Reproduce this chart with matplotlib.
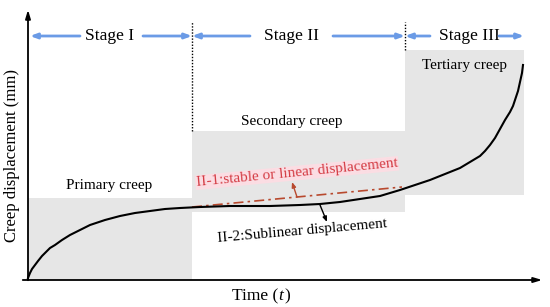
import numpy as np
import matplotlib
matplotlib.use("Agg")
import matplotlib.pyplot as plt

plt.rcParams['font.family'] = ['Liberation Serif', 'DejaVu Serif']

# schematic creep curve (time, displacement) in drawing units
t = [0, 2, 4, 7, 10, 14, 18, 22, 27, 34, 42, 52, 62, 77, 92, 107, 122, 137,
     152, 172, 202, 242, 272, 292, 312, 332, 352, 362, 372, 387, 402, 417,
     432, 442, 452, 457, 462, 467, 472, 477, 482, 485, 487, 490, 492, 494, 495]
d = [2, 7, 11, 15, 19, 24, 28, 32, 35, 40, 45, 50, 55, 60, 64, 67, 69, 71,
     72, 73, 74, 74, 75, 76, 78, 81, 84, 87, 90, 95, 100, 106,
     112, 118, 124, 129, 135, 142, 151, 160, 168, 174, 180, 189, 198, 207, 215]

# stage boundaries and shaded boxes (t0, t1, d_low, d_high)
stage_edges = [0, 164, 377, 496]
boxes = [(0, 164, 0, 82), (164, 377, 68, 149), (377, 496, 85, 230)]
stage_names = ["Stage I", "Stage II", "Stage III"]
stage_text_t = [82, 264, 441]
stage_arrows = [(52, 2), (115, 164), (222, 164), (305, 377), (402, 377), (471, 496)]

# linear reference line in stage II
lin_t = [164, 374]
lin_d = [73, 93]

fig = plt.figure(figsize=(5.5, 3.07), dpi=100)
ax = fig.add_axes([0, 0, 1, 1])
ax.set_xlim(-28, 522)
ax.set_ylim(-27, 280)
ax.axis('off')

for t0, t1, d0, d1 in boxes:
    ax.fill_between([t0, t1], d0, d1, color='#e6e6e6', lw=0, zorder=0)

ax.plot([stage_edges[1]] * 2, [149, 258], color='black', ls=(0, (1, 1.2)), lw=1)
ax.plot([stage_edges[2]] * 2, [230, 258], color='black', ls=(0, (1, 1.2)), lw=1)

# axes arrows
ax.annotate('', xy=(0, 273), xytext=(0, -3),
            arrowprops=dict(arrowstyle='-|>,head_width=0.15,head_length=0.5', color='black', lw=1.3))
ax.annotate('', xy=(517, 0), xytext=(-8, 0),
            arrowprops=dict(arrowstyle='-|>,head_width=0.15,head_length=0.5', color='black', lw=1.3))

for name, tc in zip(stage_names, stage_text_t):
    ax.text(tc, 244, name, ha='center', va='center', fontsize=12.5)
for a, b in stage_arrows:
    ax.annotate('', xy=(b, 244), xytext=(a, 244),
                arrowprops=dict(arrowstyle='-|>,head_width=0.15,head_length=0.4',
                                color='#6b9be6', lw=2, shrinkA=0, shrinkB=0))

ax.plot(lin_t, lin_d, color='#b8492e', ls=(0, (6, 2.5, 1.5, 2.5)), lw=1.2, zorder=3)
ax.plot(t, d, color='black', lw=1.5, zorder=4)

ax.text(81, 95, "Primary creep", ha='center', va='center', fontsize=11)
ax.text(264, 158, "Secondary creep", ha='center', va='center', fontsize=11)
ax.text(437, 215, "Tertiary creep", ha='center', va='center', fontsize=11)

ax.text(269, 107, "II-1:stable or linear displacement", ha='center', va='center',
        fontsize=11, color='#d43c44', rotation=5.5, rotation_mode='anchor',
        bbox=dict(boxstyle='square,pad=0.05', fc='#fbdde3', ec='none'))
ax.text(274, 49, "II-2:Sublinear displacement", ha='center', va='center',
        fontsize=11, color='black', rotation=5, rotation_mode='anchor')

ax.annotate('', xy=(264, 98), xytext=(269, 83),
            arrowprops=dict(arrowstyle='-|>,head_width=0.12,head_length=0.3',
                            color='#b8492e', lw=1, shrinkA=0, shrinkB=0))
ax.annotate('', xy=(299, 58), xytext=(292, 75),
            arrowprops=dict(arrowstyle='-|>,head_width=0.12,head_length=0.3',
                            color='black', lw=1, shrinkA=0, shrinkB=0))

ax.text(250, -16, "Time (", ha='right', va='center', fontsize=12.5)
ax.text(250, -16, "t", ha='left', va='center', fontsize=12.5, style='italic')
ax.text(256, -16, ")", ha='left', va='center', fontsize=12.5)
ax.text(-16, 125, "Creep displacement (mm)", ha='center', va='center',
        fontsize=12, rotation=90)

fig.savefig("out.png", dpi=100)
